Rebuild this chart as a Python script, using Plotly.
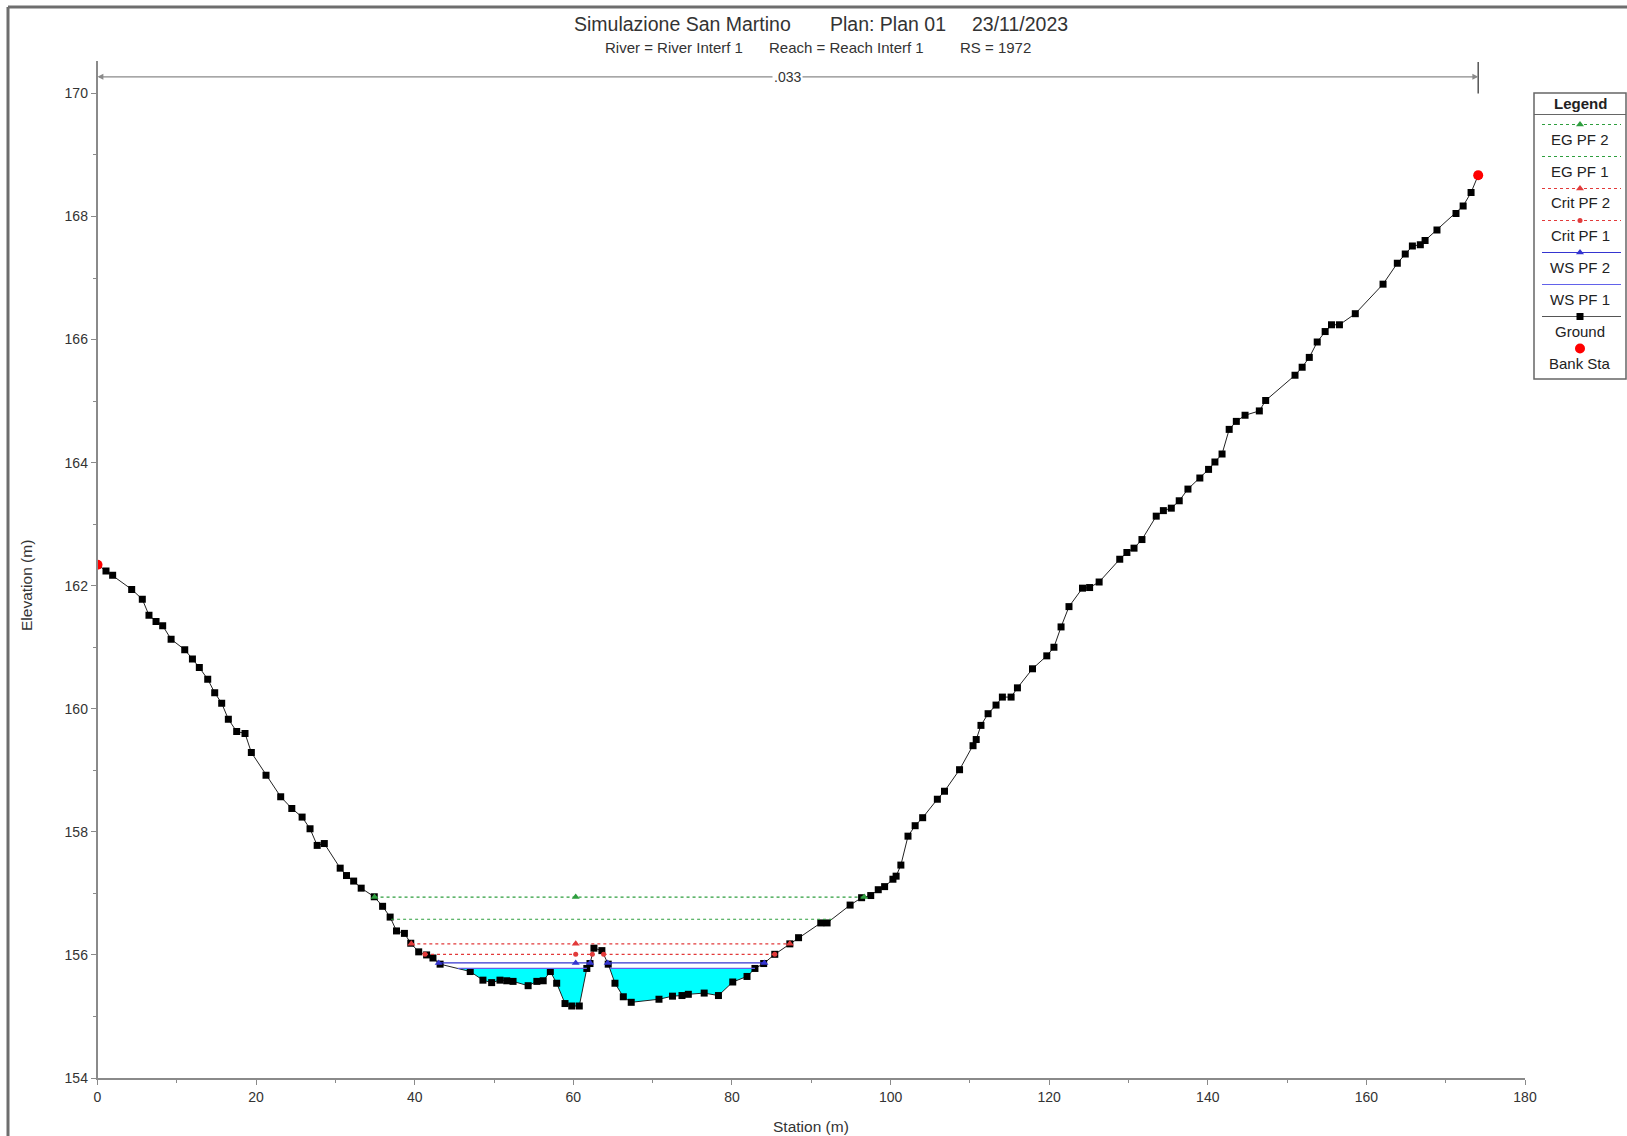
import plotly.graph_objects as go

# ---------------- data ----------------
ground_station = [
    0.0, 1.07, 1.91, 4.31, 5.65, 6.49, 7.38, 8.22, 9.28, 11.0, 11.97, 12.84, 13.9, 14.78,
    15.66, 16.5, 17.55, 18.6, 19.4, 21.25, 23.1, 24.5, 25.8, 26.8, 27.7, 28.6, 30.6, 31.4,
    32.3, 33.25, 34.9, 35.95, 36.9, 37.7, 38.7, 39.5, 40.5, 41.5, 42.3, 43.2, 47.0, 48.6,
    49.7, 50.75, 51.6, 52.4, 54.3, 55.4, 56.2, 57.1, 57.9, 58.95, 59.8, 60.75, 61.7, 62.1,
    62.6, 63.6, 64.4, 65.25, 66.3, 67.3, 70.8, 72.5, 73.7, 74.5, 76.5, 78.3, 80.1, 81.9,
    82.9, 84.0, 85.4, 87.3, 88.4, 91.2, 92.0, 94.9, 96.35, 97.5, 98.45, 99.25, 100.3, 100.7,
    101.3, 102.2, 103.1, 104.05, 105.9, 106.8, 108.7, 110.4, 110.8, 111.4, 112.3, 113.3,
    114.1, 115.2, 116.0, 117.9, 119.7, 120.6, 121.5, 122.5, 124.2, 125.1, 126.3, 128.9,
    129.8, 130.7, 131.7, 133.5, 134.4, 135.4, 136.4, 137.5, 139.0, 140.1, 140.9, 141.8,
    142.7, 143.6, 144.7, 146.5, 147.3, 151.0, 151.9, 152.8, 153.8, 154.8, 155.6, 156.6,
    158.6, 162.1, 163.9, 164.9, 165.8, 166.8, 167.4, 168.9, 171.3, 172.2, 173.2, 174.1,
]
ground_elev = [
    162.34, 162.24, 162.17, 161.94, 161.78, 161.52, 161.42, 161.35, 161.13, 160.96, 160.81,
    160.67, 160.48, 160.26, 160.09, 159.83, 159.63, 159.60, 159.29, 158.92, 158.57, 158.38,
    158.24, 158.05, 157.78, 157.81, 157.41, 157.29, 157.20, 157.085, 156.945, 156.79,
    156.615, 156.39, 156.35, 156.19, 156.05, 156.00, 155.95, 155.85, 155.73, 155.59, 155.55,
    155.59, 155.58, 155.57, 155.50, 155.57, 155.58, 155.73, 155.54, 155.21, 155.17, 155.17,
    155.78, 155.86, 156.11, 156.07, 155.85, 155.54, 155.32, 155.23, 155.28, 155.33, 155.34,
    155.36, 155.38, 155.34, 155.56, 155.65, 155.78, 155.86, 156.01, 156.18, 156.28, 156.52,
    156.52, 156.81, 156.93, 156.965, 157.06, 157.11, 157.23, 157.28, 157.46, 157.93, 158.10,
    158.23, 158.53, 158.66, 159.01, 159.40, 159.50, 159.73, 159.92, 160.06, 160.19, 160.19,
    160.34, 160.65, 160.86, 161.00, 161.33, 161.66, 161.96, 161.97, 162.06, 162.43, 162.54,
    162.61, 162.75, 163.13, 163.22, 163.26, 163.38, 163.57, 163.75, 163.89, 164.01, 164.14,
    164.54, 164.67, 164.77, 164.84, 165.01, 165.42, 165.55, 165.71, 165.96, 166.13, 166.24,
    166.24, 166.42, 166.90, 167.24, 167.39, 167.52, 167.54, 167.61, 167.78, 168.05, 168.17,
    168.39, 168.67,
]
bank_station = [0.0, 174.1]
bank_elev = [162.34, 168.67]

profile_names = ["EG PF 2", "EG PF 1", "Crit PF 2", "Crit PF 1", "WS PF 2", "WS PF 1"]
profile_elev = [156.94, 156.58, 156.18, 156.01, 155.87, 155.78]
profile_marker_station = 60.3      # station of the central profile markers

manning_n = ".033"
manning_start, manning_end = 0.0, 174.1
manning_elev = 170.27

x_ticks = [0, 20, 40, 60, 80, 100, 120, 140, 160, 180]
y_ticks = [154, 156, 158, 160, 162, 164, 166, 168, 170]

# ---------------- styles ----------------
W, H = 1627, 1136
FONT = "Liberation Sans, Arial, sans-serif"
TXT = "#333333"
AX = "#8a8a8a"
GREEN, RED = "#2e9e3e", "#e23a3a"
BLUE2, BLUE1 = "#3535d0", "#6262ea"
profile_style = {
    "EG PF 2": dict(color=GREEN, dash="dot", symbol="triangle-up", size=7),
    "EG PF 1": dict(color=GREEN, dash="dot", symbol=None, size=0),
    "Crit PF 2": dict(color=RED, dash="dot", symbol="triangle-up", size=7),
    "Crit PF 1": dict(color=RED, dash="dot", symbol="circle", size=5),
    "WS PF 2": dict(color=BLUE2, dash="solid", symbol="triangle-up", size=7),
    "WS PF 1": dict(color=BLUE1, dash="solid", symbol=None, size=0),
}


def px(X):
    return X / W


def py(Y):
    return 1 - Y / H


def wet_segments(st, el, h):
    """Portions of the section where the ground lies below level h."""
    segs, cur = [], None
    for i in range(len(st) - 1):
        x0, y0, x1, y1 = st[i], el[i], st[i + 1], el[i + 1]
        if cur is None and y0 >= h and y1 < h:
            xc = x0 + (h - y0) / (y1 - y0) * (x1 - x0)
            cur = {"x": [xc], "y": [h]}
        if cur is not None:
            if y1 < h:
                cur["x"].append(x1)
                cur["y"].append(y1)
            else:
                xc = x0 + (h - y0) / (y1 - y0) * (x1 - x0)
                cur["x"].append(xc)
                cur["y"].append(h)
                segs.append(cur)
                cur = None
    return segs


fig = go.Figure()

# water fill (lowest water surface)
ws1 = profile_elev[profile_names.index("WS PF 1")]
for seg in wet_segments(ground_station, ground_elev, ws1):
    fig.add_trace(go.Scatter(x=seg["x"], y=seg["y"], mode="lines", fill="toself",
                             fillcolor="#00ffff", line=dict(width=0, color="#00ffff"),
                             hoverinfo="skip", showlegend=False))

# ground
fig.add_trace(go.Scatter(x=ground_station, y=ground_elev, mode="lines+markers",
                         line=dict(color="#222222", width=1),
                         marker=dict(symbol="square", size=7, color="black"),
                         name="Ground", showlegend=False))

# water surface lines
for name, h in zip(profile_names, profile_elev):
    s = profile_style[name]
    segs = wet_segments(ground_station, ground_elev, h)
    lx, ly, mx, my = [], [], [], []
    for seg in segs:
        a, b = seg["x"][0], seg["x"][-1]
        lx += [a, b, None]
        ly += [h, h, None]
        mx += [a, b]
        my += [h, h]
        if a < profile_marker_station < b:
            mx.append(profile_marker_station)
            my.append(h)
    fig.add_trace(go.Scatter(x=lx, y=ly, mode="lines",
                             line=dict(color=s["color"], width=1.2, dash=s["dash"]),
                             name=name, showlegend=False))
    if s["symbol"]:
        fig.add_trace(go.Scatter(x=mx, y=my, mode="markers",
                                 marker=dict(symbol=s["symbol"], size=s["size"], color=s["color"]),
                                 name=name, showlegend=False))

# bank stations
fig.add_trace(go.Scatter(x=bank_station, y=bank_elev, mode="markers",
                         marker=dict(symbol="circle", size=10, color="red"),
                         name="Bank Sta", showlegend=False))

# ---------------- custom legend (own subplot, pixel units) ----------------
LX0, LX1, LY0, LY1 = 1534, 1626, 93, 379
LCX = (LX0 + LX1) / 2
row_sym_y0, row_lab_y0, row_step = 124.5, 139.0, 32.0
legend_rows = profile_names + ["Ground", "Bank Sta"]
annotations = []
shapes = []
for i, name in enumerate(legend_rows):
    ys = row_sym_y0 + row_step * i
    yl = row_lab_y0 + row_step * i
    if name in profile_style:
        s = profile_style[name]
        fig.add_trace(go.Scatter(x=[1542, 1621], y=[ys, ys], mode="lines", xaxis="x2", yaxis="y2",
                                 line=dict(color=s["color"], width=1.2, dash=s["dash"]),
                                 showlegend=False, hoverinfo="skip"))
        if s["symbol"]:
            fig.add_trace(go.Scatter(x=[LCX], y=[ys], mode="markers", xaxis="x2", yaxis="y2",
                                     marker=dict(symbol=s["symbol"], size=s["size"], color=s["color"]),
                                     showlegend=False, hoverinfo="skip"))
    elif name == "Ground":
        fig.add_trace(go.Scatter(x=[1542, 1621], y=[ys, ys], mode="lines", xaxis="x2", yaxis="y2",
                                 line=dict(color="#555555", width=1.2),
                                 showlegend=False, hoverinfo="skip"))
        fig.add_trace(go.Scatter(x=[LCX], y=[ys], mode="markers", xaxis="x2", yaxis="y2",
                                 marker=dict(symbol="square", size=7, color="black"),
                                 showlegend=False, hoverinfo="skip"))
    else:
        fig.add_trace(go.Scatter(x=[LCX], y=[ys], mode="markers", xaxis="x2", yaxis="y2",
                                 marker=dict(symbol="circle", size=10, color="red"),
                                 showlegend=False, hoverinfo="skip"))
    annotations.append(dict(x=px(LCX), y=py(yl), xref="paper", yref="paper", text=name,
                            showarrow=False, xanchor="center", yanchor="middle",
                            font=dict(family=FONT, size=15, color="#222222")))

annotations.append(dict(x=px(LCX), y=py(103.5), xref="paper", yref="paper", text="<b>Legend</b>",
                        showarrow=False, xanchor="center", yanchor="middle",
                        font=dict(family=FONT, size=15, color="#222222")))
shapes.append(dict(type="rect", xref="paper", yref="paper", x0=px(LX0), x1=px(LX1),
                   y0=py(LY1), y1=py(LY0), line=dict(color="#666666", width=1.5)))
shapes.append(dict(type="line", xref="paper", yref="paper", x0=px(LX0), x1=px(LX1),
                   y0=py(114.5), y1=py(114.5), line=dict(color="#666666", width=1.2)))

# outer frame (left and top edges visible)
shapes.append(dict(type="line", xref="paper", yref="paper", x0=px(8), x1=px(8), y0=0, y1=py(7),
                   line=dict(color="#6e6e6e", width=3)))
shapes.append(dict(type="line", xref="paper", yref="paper", x0=px(8), x1=1, y0=py(7), y1=py(7),
                   line=dict(color="#6e6e6e", width=3)))

# Manning's n bar
mid = (manning_start + manning_end) / 2
for end in (manning_start, manning_end):
    annotations.append(dict(x=end, y=manning_elev, ax=mid, ay=manning_elev, xref="x", yref="y",
                            axref="x", ayref="y", text="", showarrow=True, arrowhead=2,
                            arrowsize=0.9, arrowwidth=1.3, arrowcolor="#8a8a8a"))
annotations.append(dict(x=mid, y=manning_elev, xref="x", yref="y", text=manning_n, showarrow=False,
                        bgcolor="white", font=dict(family=FONT, size=14, color=TXT)))
shapes.append(dict(type="line", xref="x", yref="y", x0=manning_end, x1=manning_end,
                   y0=170.0, y1=170.51, line=dict(color="#555555", width=1.5)))

# titles
for text, X, Y, size in [
    ("Simulazione San Martino", 682, 24, 19.5),
    ("Plan: Plan 01", 888, 24, 19.5),
    ("23/11/2023", 1020, 24, 19.5),
    ("River = River Interf 1", 674, 47.5, 15),
    ("Reach = Reach Interf 1", 846, 47.5, 15),
    ("RS = 1972", 995, 47.5, 15),
]:
    annotations.append(dict(x=px(X), y=py(Y), xref="paper", yref="paper", text=text,
                            showarrow=False, xanchor="center", yanchor="middle",
                            font=dict(family=FONT, size=size, color=TXT)))

annotations.append(dict(x=px(26), y=py(586), xref="paper", yref="paper", text="Elevation (m)",
                        textangle=-90, showarrow=False, xanchor="center", yanchor="middle",
                        font=dict(family=FONT, size=15.5, color=TXT)))
annotations.append(dict(x=px(811), y=py(1126), xref="paper", yref="paper", text="Station (m)",
                        showarrow=False, xanchor="center", yanchor="middle",
                        font=dict(family=FONT, size=15.5, color=TXT)))

fig.update_layout(
    autosize=True,
    margin=dict(l=0, r=0, t=0, b=0, autoexpand=False),
    paper_bgcolor="white", plot_bgcolor="rgba(0,0,0,0)",
    showlegend=False,
    font=dict(family=FONT, color=TXT),
    xaxis=dict(domain=[px(97.5), px(1525)], range=[0, 180], tickvals=x_ticks,
               showline=True, linecolor=AX, linewidth=1.5, ticks="outside", ticklen=5,
               tickcolor=AX, tickwidth=1.2, showgrid=False, zeroline=False,
               minor=dict(ticks="outside", ticklen=3, tickcolor=AX, dtick=10, showgrid=False),
               tickfont=dict(family=FONT, size=14, color=TXT), anchor="y"),
    yaxis=dict(domain=[py(1078), py(61.4)], range=[154, 170.52], tickvals=y_ticks,
               showline=True, linecolor=AX, linewidth=1.5, ticks="outside", ticklen=5,
               tickcolor=AX, tickwidth=1.2, showgrid=False, zeroline=False,
               minor=dict(ticks="outside", ticklen=3, tickcolor=AX, dtick=1, showgrid=False),
               tickfont=dict(family=FONT, size=14, color=TXT), anchor="x"),
    xaxis2=dict(domain=[px(LX0), px(LX1)], range=[LX0, LX1], visible=False, anchor="y2",
                fixedrange=True),
    yaxis2=dict(domain=[py(LY1), py(LY0)], range=[LY1, LY0], visible=False, anchor="x2",
                fixedrange=True),
    annotations=annotations,
    shapes=shapes,
)

fig.write_html(
    "out.html",
    default_width="100vw",
    default_height="100vh",
    config={"responsive": True, "displayModeBar": False},
    post_script=(
        "document.documentElement.style.margin='0';"
        "document.body.style.margin='0';"
        "document.body.style.overflow='hidden';"
        "document.documentElement.style.overflow='hidden';"
    ),
)
